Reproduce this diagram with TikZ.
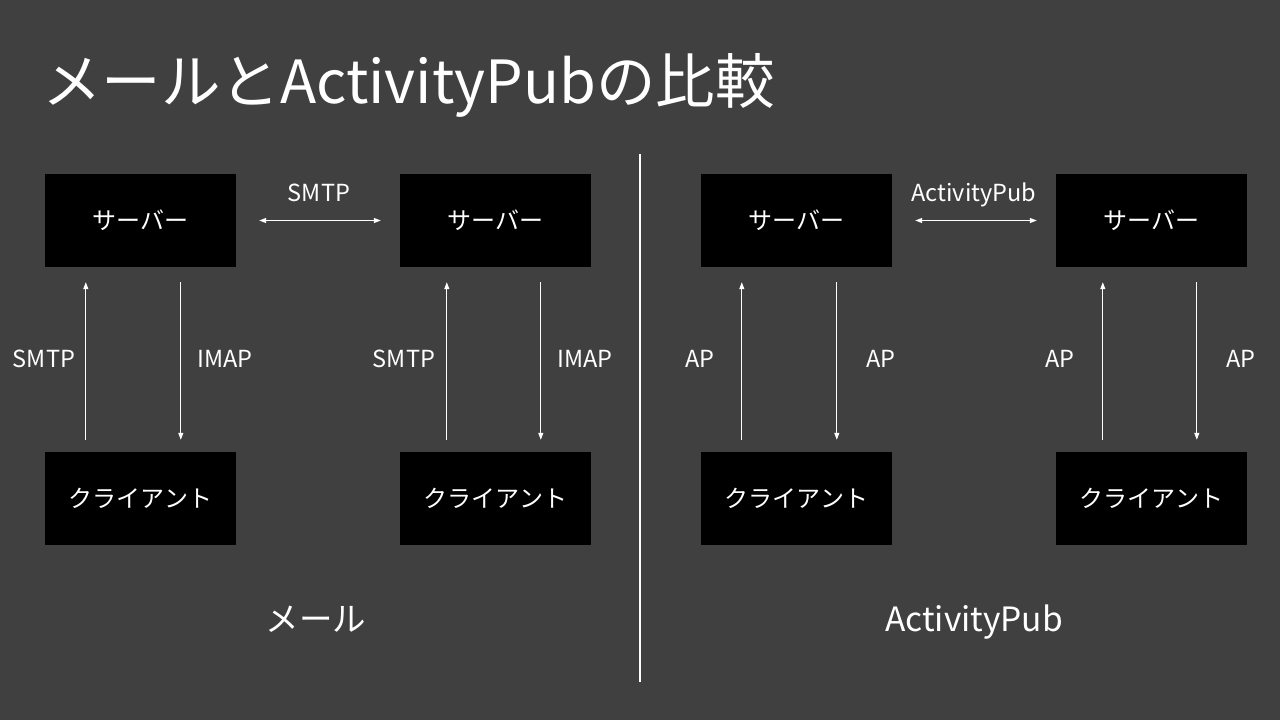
\documentclass[tikz,border=0pt]{standalone}
\usepackage{fontspec}
\setmainfont{Noto Sans CJK JP}
\usetikzlibrary{arrows.meta}
\definecolor{bg}{HTML}{404040}
\tikzset{
  box/.style={fill=black, text=white, minimum width=191pt, minimum height=93pt, inner sep=0pt, font=\fontsize{24}{28}\selectfont},
  lbl/.style={text=white, anchor=base, inner sep=0pt, font=\fontsize{23.5}{27}\selectfont},
  arr/.style={draw=white, line width=1pt, -{Triangle[length=7pt,width=5pt]}},
  arrs/.style={draw=white, line width=1pt, {Triangle[length=7pt,width=5pt]}-{Triangle[length=7pt,width=5pt]}},
}
\begin{document}
\begin{tikzpicture}[x=1pt,y=-1pt]
\fill[bg] (0,0) rectangle (1280,720);
\useasboundingbox (0,0) rectangle (1280,720);

\node[text=white, anchor=base west, inner sep=0pt, font=\fontsize{59.5}{64}\selectfont] (title) at (42,103) {メールとActivityPubの比較};

% servers
\node[box] (s1) at (140.5,220.5) {サーバー};
\node[box] (s2) at (495.5,220.5) {サーバー};
\node[box] (s3) at (796.5,220.5) {サーバー};
\node[box] (s4) at (1151.5,220.5) {サーバー};
% clients
\node[box] (c1) at (140.5,498.5) {クライアント};
\node[box] (c2) at (495.5,498.5) {クライアント};
\node[box] (c3) at (796.5,498.5) {クライアント};
\node[box] (c4) at (1151.5,498.5) {クライアント};

% server to server
\path[arrs, shorten <=23pt, shorten >=19pt] (s1) -- (s2);
\path[arrs, shorten <=23pt, shorten >=19pt] (s3) -- (s4);
\node[lbl] (t1) at (319,201) {SMTP};
\node[lbl] (t2) at (974,201) {ActivityPub};

% client to server
\path[arr] ([xshift=41pt,yshift=12pt]c1.north west) -- ([xshift=41pt,yshift=-15pt]s1.south west);
\path[arr] ([xshift=136pt,yshift=-15pt]s1.south west) -- ([xshift=136pt,yshift=12pt]c1.north west);
\path[arr] ([xshift=47pt,yshift=12pt]c2.north west) -- ([xshift=47pt,yshift=-15pt]s2.south west);
\path[arr] ([xshift=141pt,yshift=-15pt]s2.south west) -- ([xshift=141pt,yshift=12pt]c2.north west);
\path[arr] ([xshift=41pt,yshift=12pt]c3.north west) -- ([xshift=41pt,yshift=-15pt]s3.south west);
\path[arr] ([xshift=136pt,yshift=-15pt]s3.south west) -- ([xshift=136pt,yshift=12pt]c3.north west);
\path[arr] ([xshift=47pt,yshift=12pt]c4.north west) -- ([xshift=47pt,yshift=-15pt]s4.south west);
\path[arr] ([xshift=141pt,yshift=-15pt]s4.south west) -- ([xshift=141pt,yshift=12pt]c4.north west);

\node[lbl] (u1) at (44,367) {SMTP};
\node[lbl] (d1) at (225,367) {IMAP};
\node[lbl] (u2) at (404,367) {SMTP};
\node[lbl] (d2) at (585,367) {IMAP};
\node[lbl] (u3) at (700,367) {AP};
\node[lbl] (d3) at (881,367) {AP};
\node[lbl] (u4) at (1060,367) {AP};
\node[lbl] (d4) at (1241,367) {AP};

% divider
\coordinate (top) at (640,154);
\coordinate (bot) at (640,682);
\path[draw=white, line width=1.5pt] (top) -- (bot);

\node[text=white, anchor=base, inner sep=0pt, font=\fontsize{33.5}{38}\selectfont] (mail) at (316,631) {メール};
\node[text=white, anchor=base, inner sep=0pt, font=\fontsize{33.5}{38}\selectfont] (ap) at (974,631) {ActivityPub};
\end{tikzpicture}
\end{document}
